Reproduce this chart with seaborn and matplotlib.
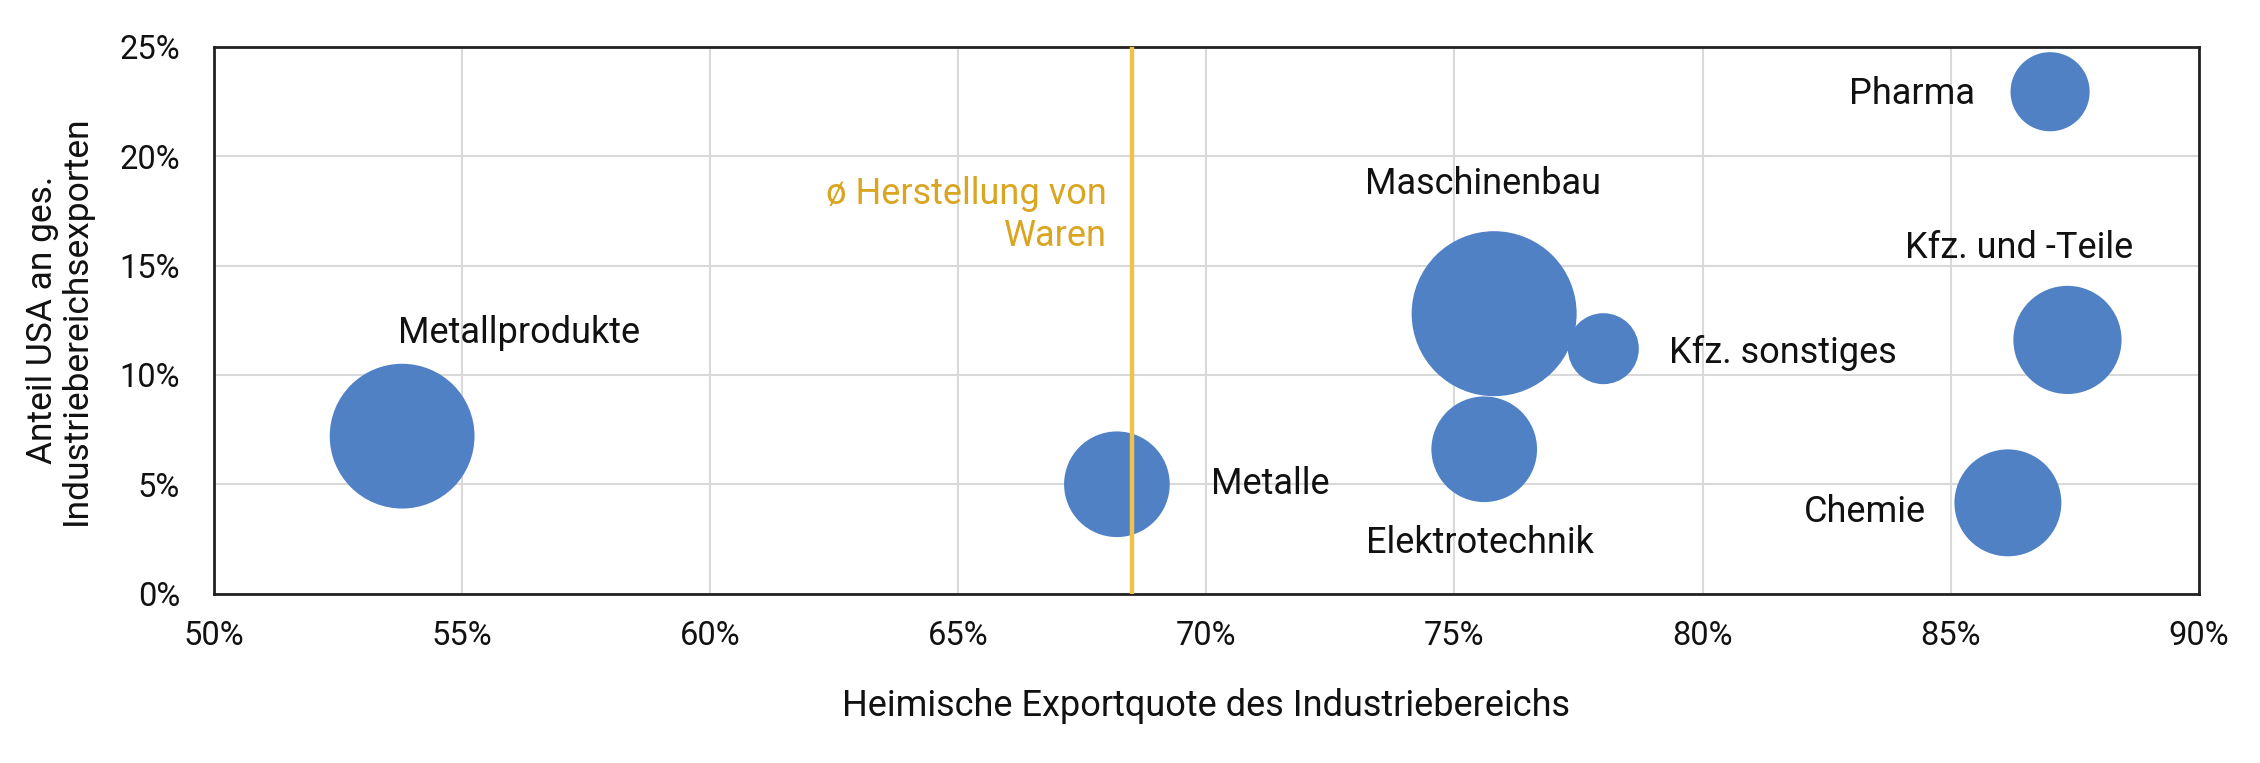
import numpy as np
import pandas as pd
import seaborn as sns
import matplotlib
matplotlib.use("Agg")
import matplotlib.pyplot as plt
from matplotlib.ticker import FuncFormatter, MultipleLocator

# ---- data ----
bereiche = ["Metallprodukte", "Metalle", "Maschinenbau", "Kfz. sonstiges",
            "Elektrotechnik", "Pharma", "Kfz. und -Teile", "Chemie"]
exportquote = [53.8, 68.2, 75.8, 78.0, 75.6, 87.0, 87.35, 86.15]   # % (x)
anteil_usa = [7.2, 5.0, 12.8, 11.2, 6.6, 22.95, 11.6, 4.15]       # % (y)
gewicht = [77, 41, 100, 18.5, 41, 23, 43, 42]                       # bubble size (relative)
durchschnitt = 68.5                                                 # ø Herstellung von Waren

# label anchor positions (data coords)
label_x = [53.72, 70.10, 73.20, 79.33, 73.22, 82.94, 84.08, 82.03]
label_y = [11.92, 5.01, 18.73, 11.0, 2.31, 22.84, 15.80, 3.73]

df = pd.DataFrame({"bereich": bereiche, "x": exportquote, "y": anteil_usa, "w": gewicht})

sns.set_theme(style="white")
plt.rcParams["font.family"] = ["Roboto", "DejaVu Sans"]

fig = plt.figure(figsize=(22.6, 7.63), dpi=100)
ax = fig.add_axes([213.5 / 2260, 1 - 593.6 / 763, (2199 - 213.5) / 2260, (593.6 - 46.9) / 763])

BLUE = "#4F81C4"
smax = (165 * 72 / 100) ** 2
sns.scatterplot(data=df, x="x", y="y", size="w", sizes=(0, smax), size_norm=(0, 100),
                color=BLUE, linewidth=0, alpha=1, legend=False, ax=ax, zorder=3)

ax.axvline(durchschnitt, color="#F0C24C", lw=3.2, zorder=4)
ax.text(durchschnitt - 0.5, 17.3, "ø Herstellung von\nWaren", ha="right", va="center",
        multialignment="right", color="#DAA520", fontsize=26, linespacing=1.2)

for name, lx, ly in zip(bereiche, label_x, label_y):
    ax.text(lx, ly, name, ha="left", va="center", fontsize=26, color="#111111", zorder=5)

ax.set_xlim(50, 90)
ax.set_ylim(0, 25)
ax.xaxis.set_major_locator(MultipleLocator(5))
ax.yaxis.set_major_locator(MultipleLocator(5))
pct = FuncFormatter(lambda v, p: f"{v:.0f}%")
ax.xaxis.set_major_formatter(pct)
ax.yaxis.set_major_formatter(pct)
ax.tick_params(axis="both", length=0, labelsize=23.5, colors="#111111")
ax.tick_params(axis="x", pad=19)
ax.tick_params(axis="y", pad=24)

ax.grid(True, color="#D9D9D9", lw=1.5, zorder=0)
ax.set_axisbelow(True)
for sp in ax.spines.values():
    sp.set_visible(True)
    sp.set_color("#222222")
    sp.set_linewidth(2.0)

ax.set_xlabel("Heimische Exportquote des Industriebereichs", fontsize=26, color="#111111", labelpad=26)
ax.set_ylabel("Anteil USA an ges.\nIndustriebereichsexporten", fontsize=25.5, color="#111111",
              labelpad=19, linespacing=1.05)

fig.savefig("out.png", dpi=100, facecolor="white")
